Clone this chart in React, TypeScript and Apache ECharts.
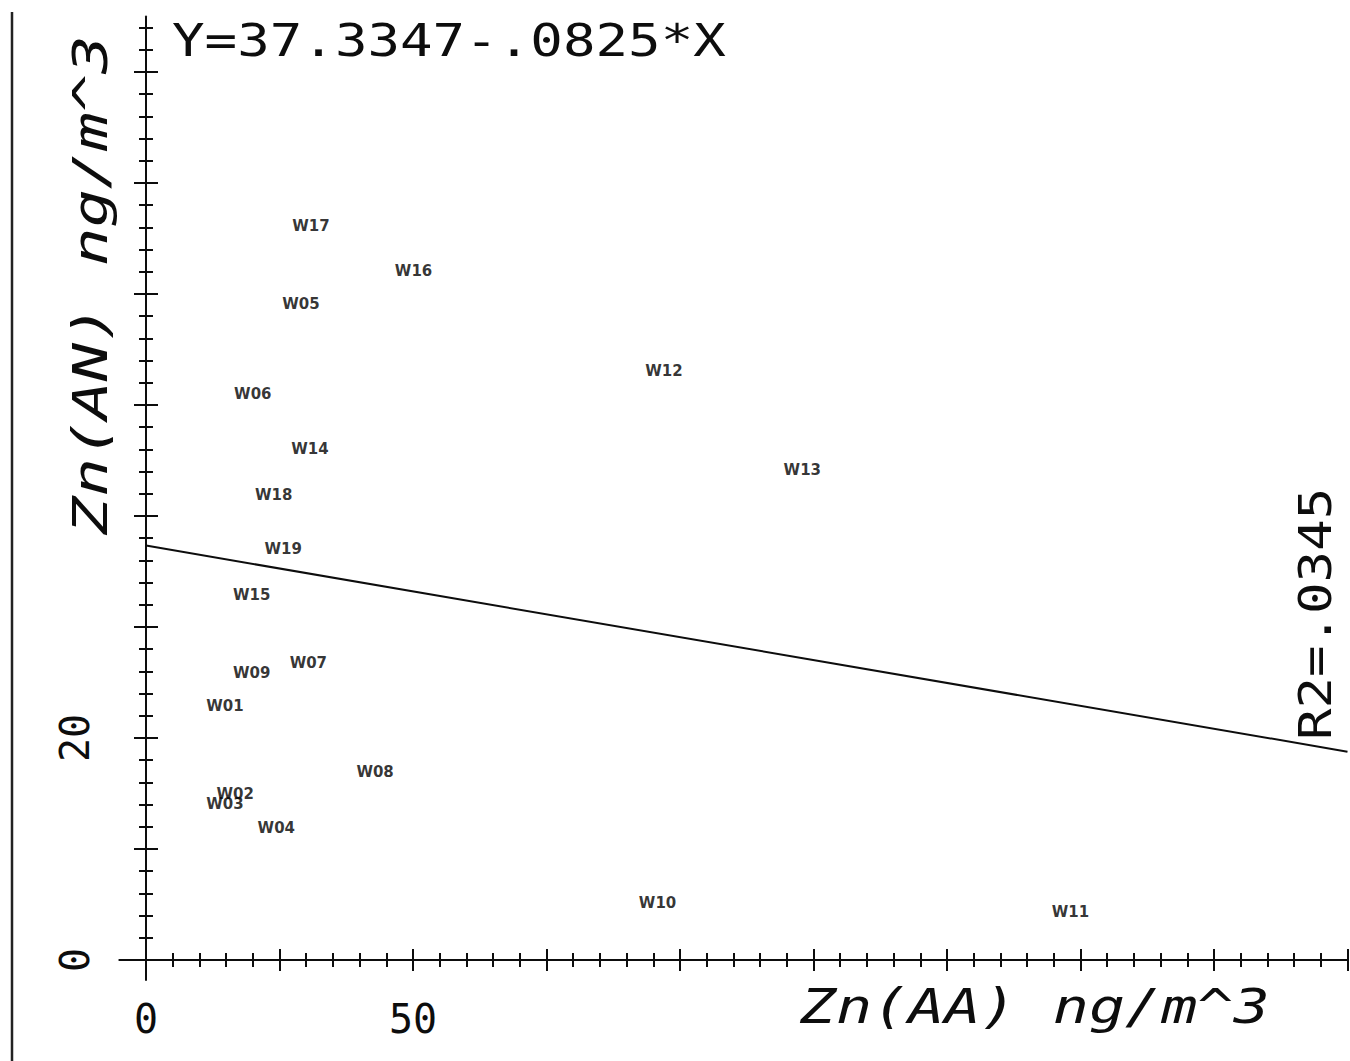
import React, { useEffect, useRef } from "react";
import * as echarts from "echarts";

// ---- data ----
const SAMPLE_NAMES = [
  "W01", "W02", "W03", "W04", "W05", "W06", "W07", "W08", "W09", "W10",
  "W11", "W12", "W13", "W14", "W15", "W16", "W17", "W18", "W19",
];
const ZN_AA = [
  14.8, 16.7, 14.8, 24.4, 29.0, 20.0, 30.4, 42.9, 19.8, 95.8,
  173.1, 97.0, 122.9, 30.7, 19.8, 50.1, 30.9, 23.9, 25.7,
];
const ZN_AN = [
  22.9, 15.0, 14.1, 11.9, 59.1, 51.0, 26.8, 16.9, 25.9, 5.1,
  4.3, 53.1, 44.1, 46.0, 32.9, 62.1, 66.1, 41.9, 37.0,
];

const FIT_INTERCEPT = 37.3347;
const FIT_SLOPE = -0.0825;
const EQUATION_LABEL = "Y=37.3347-.0825*X";
const R2_LABEL = "R2=.0345";
const X_TITLE = "Zn(AA) ng/m^3";
const Y_TITLE = "Zn(AN) ng/m^3";

const X_MIN = -5;
const X_MAX = 225;
const X_MAJOR_STEP = 25;
const X_MINOR_STEP = 5;
const Y_MIN = -1.8;
const Y_MAX = 85;
const Y_MAJOR_STEP = 10;
const Y_MINOR_STEP = 2;
const X_TICK_LABELS = [0, 50];
const Y_TICK_LABELS = [0, 20];

const INK = "#0d0d0d";
const MONO = "DejaVu Sans Mono";

function stepValues(max: number, step: number, skip: number): number[] {
  const out: number[] = [];
  for (let i = 0; i * step <= max + 1e-9; i++) {
    const v = Math.round(i * step * 1000) / 1000;
    if (skip > 0 && Math.abs(v / skip - Math.round(v / skip)) < 1e-9) continue;
    out.push(v);
  }
  return out;
}

const X_MAJOR = stepValues(X_MAX, X_MAJOR_STEP, 0);
const X_MINOR = stepValues(X_MAX, X_MINOR_STEP, X_MAJOR_STEP);
const Y_MAJOR = stepValues(Y_MAX, Y_MAJOR_STEP, 0);
const Y_MINOR = stepValues(Y_MAX, Y_MINOR_STEP, Y_MAJOR_STEP);

function makeAxis(
  dim: "x" | "y",
  ticks: number[],
  length: number,
  inside: boolean,
  main: boolean
): any {
  const isX = dim === "x";
  const axis: any = {
    type: "value",
    min: isX ? X_MIN : Y_MIN,
    max: isX ? X_MAX : Y_MAX,
    position: isX ? "bottom" : "left",
    axisLine: {
      show: main,
      onZero: true,
      onZeroAxisIndex: 0,
      lineStyle: { color: INK, width: 2 },
    },
    axisTick: {
      show: true,
      customValues: ticks,
      inside,
      length,
      lineStyle: { color: INK, width: 2 },
    },
    minorTick: { show: false },
    splitLine: { show: false },
    axisLabel: { show: false },
  };
  if (main) {
    axis.axisLabel = isX
      ? {
          show: true,
          customValues: X_TICK_LABELS,
          fontFamily: MONO,
          fontSize: 40,
          color: INK,
          margin: 19,
        }
      : {
          show: true,
          customValues: Y_TICK_LABELS,
          rotate: 90,
          fontFamily: MONO,
          fontSize: 40,
          color: INK,
          margin: 24,
        };
  }
  return axis;
}

function textEl(
  text: string,
  x: number,
  y: number,
  fontSize: number,
  scaleX: number,
  rotation: number,
  italic: boolean
): any {
  return {
    type: "text",
    x,
    y,
    rotation,
    scaleX,
    scaleY: 1,
    silent: true,
    style: {
      text,
      fontFamily: MONO,
      fontSize,
      fontStyle: italic ? "italic" : "normal",
      fill: INK,
      align: "left",
      verticalAlign: "middle",
      textAlign: "left",
      textVerticalAlign: "middle",
    },
  };
}

export default function App() {
  const ref = useRef<HTMLDivElement>(null);

  useEffect(() => {
    if (!ref.current) return;
    const chart = echarts.init(ref.current, null, { renderer: "svg" });

    const points = SAMPLE_NAMES.map((name, i) => ({
      name,
      value: [ZN_AA[i], ZN_AN[i]],
    }));
    const fitLine = [
      [0, FIT_INTERCEPT],
      [X_MAX, FIT_INTERCEPT + FIT_SLOPE * X_MAX],
    ];

    chart.setOption({
      animation: false,
      backgroundColor: "#ffffff",
      grid: {
        left: 119.3,
        right: 2.5,
        top: 16.5,
        bottom: 81,
        containLabel: false,
        outerBoundsMode: "none",
      },
      xAxis: [
        makeAxis("x", X_MAJOR, 11, false, true),
        makeAxis("x", X_MAJOR, 11, true, false),
        makeAxis("x", X_MINOR, 7, false, false),
        makeAxis("x", X_MINOR, 7, true, false),
      ],
      yAxis: [
        makeAxis("y", Y_MAJOR, 12, false, true),
        makeAxis("y", Y_MAJOR, 12, true, false),
        makeAxis("y", Y_MINOR, 7, false, false),
        makeAxis("y", Y_MINOR, 7, true, false),
      ],
      series: [
        {
          type: "line",
          xAxisIndex: 0,
          yAxisIndex: 0,
          data: fitLine,
          symbol: "none",
          silent: true,
          lineStyle: { color: INK, width: 2 },
        },
        {
          type: "scatter",
          xAxisIndex: 0,
          yAxisIndex: 0,
          data: points,
          symbolSize: 1,
          itemStyle: { color: "rgba(0,0,0,0)" },
          silent: true,
          label: {
            show: true,
            position: "inside",
            formatter: "{b}",
            fontFamily: "DejaVu Sans",
            fontWeight: "bold",
            fontSize: 15,
            color: "#000",
          },
        },
      ],
      graphic: [
        {
          type: "line",
          silent: true,
          shape: { x1: 12, y1: 12, x2: 12, y2: 1061 },
          style: { stroke: "#222", lineWidth: 2.5 },
        },
        textEl(EQUATION_LABEL, 172, 41, 44, 1.23, 0, false),
        textEl(R2_LABEL, 1316, 740, 44, 1.19, Math.PI / 2, false),
        textEl(X_TITLE, 800, 1007, 48, 1.25, 0, true),
        textEl(Y_TITLE, 90, 535, 48, 1.33, Math.PI / 2, true),
      ],
    });

    return () => chart.dispose();
  }, []);

  return (
    <div
      ref={ref}
      style={{ position: "fixed", left: 0, top: 0, width: 1350, height: 1061 }}
    />
  );
}
